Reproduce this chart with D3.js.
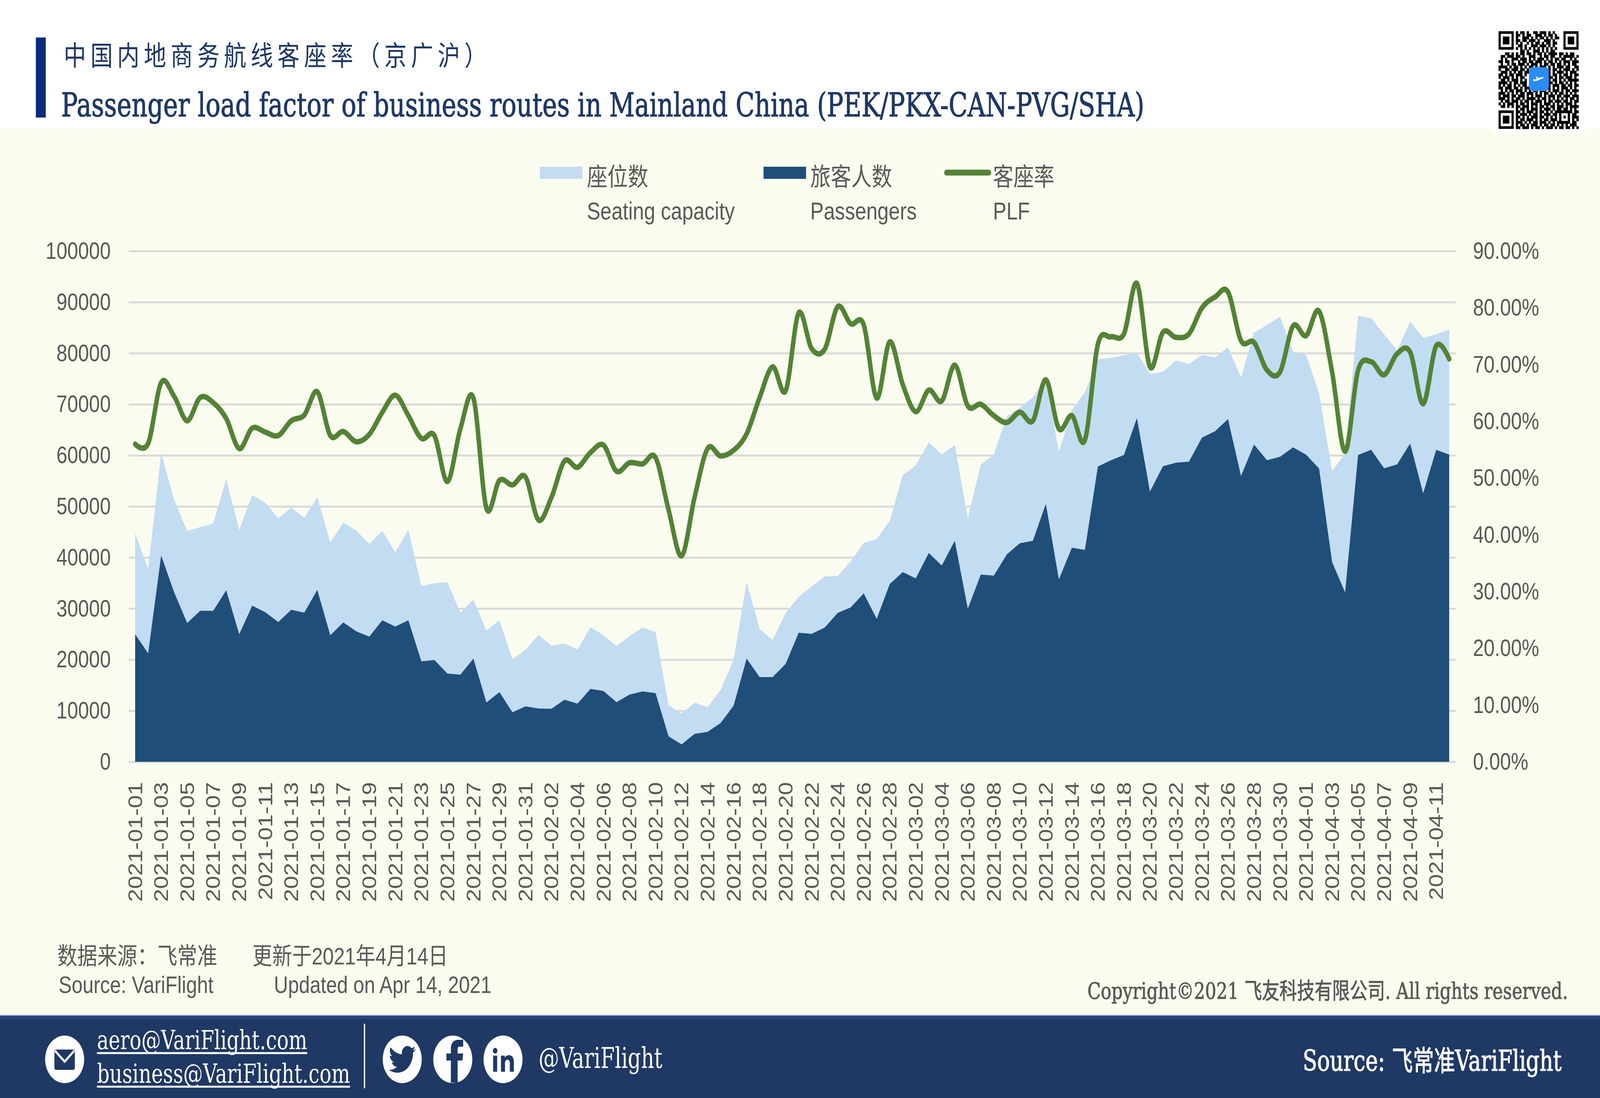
<!DOCTYPE html>
<html lang="zh">
<head>
<meta charset="utf-8">
<title>Passenger load factor</title>
<script src="https://cdn.jsdelivr.net/npm/d3@7"></script>
<style>
  html, body { margin: 0; padding: 0; background: #fff; overflow: hidden; width: 100%; height: 100%; }
  svg { display: block; width: 100vw; height: 100vh; }
  text { font-family: "Liberation Sans", "Noto Sans CJK SC", sans-serif; }
  .serif { font-family: "DejaVu Serif", "Noto Sans CJK SC", serif; }
  .cjk { font-family: "Noto Sans CJK SC", sans-serif; }
</style>
</head>
<body>
<svg id="chart" viewBox="0 0 5000 2812" preserveAspectRatio="none"></svg>
<script>
// values, one per day from 2021-01-01
const seats = [
  44710, 37750, 60410, 51260, 45190, 45940, 46620, 55290, 45390, 52220, 50720, 47650, 49760, 47780, 51810, 42940, 46830,
  45260, 42660, 45190, 41020, 45460, 34340, 34950, 35150, 29210, 31740, 25670, 27710, 20070, 21910, 24850, 22730, 23140,
  21980, 26350, 24780, 22660, 24640, 26280, 25390, 11060, 9420, 11600, 10720, 14060, 20000, 35150, 26010, 23820,
  29150, 32290, 34340, 36250, 36380, 39250, 42870, 43620, 47170, 56110, 58020, 62530, 60140, 62050, 47650, 58230, 60140,
  67650, 69350, 71400, 75090, 60620, 68810, 72360, 78840, 79050, 79590, 80070, 75910, 76380, 78570, 77890, 79660, 79180,
  81160, 75220, 84030, 85530, 87170, 80270, 79660, 72150, 57000, 60270, 87300, 86830, 83690, 80550, 86210, 83000, 83690, 84640
];
const passengers = [
  24980, 21230, 40410, 33170, 27170, 29560, 29560, 33580, 24980, 30580, 29280, 27370, 29760, 29210, 33650, 24780, 27300,
  25530, 24510, 27710, 26480, 27710, 19660, 19930, 17270, 17070, 20200, 11600, 13650, 9690, 10850, 10440, 10380, 12150,
  11400, 14270, 13860, 11670, 13170, 13790, 13450, 4980, 3410, 5460, 5870, 7580, 10990, 20200, 16590, 16590,
  19180, 25260, 25050, 26280, 29150, 30240, 32970, 27990, 34810, 37130, 35910, 40890, 38430, 43280, 29970, 36660, 36450,
  40610, 42800, 43280, 50510, 35700, 41910, 41500, 57820, 59050, 60070, 67300, 52900, 57880, 58570, 58770, 63480, 64710,
  67100, 55970, 62120, 59050, 59730, 61570, 60140, 57410, 39110, 33170, 60070, 61090, 57480, 58230, 62320, 52560, 61090, 60140
];
const plf = [
  56.0, 56.1, 66.8, 64.4, 60.1, 64.2, 63.3, 60.5, 55.2, 58.8, 58.1, 57.5, 60.1, 61.1, 65.2, 57.5, 58.2,
  56.4, 57.7, 61.6, 64.6, 61.0, 57.0, 57.5, 49.4, 58.7, 64.1, 44.7, 49.6, 48.8, 50.2, 42.6, 46.6, 53.0,
  51.9, 54.5, 55.8, 51.2, 52.7, 52.5, 53.6, 44.4, 36.3, 46.6, 55.2, 53.9, 54.9, 57.8, 64.2, 69.6,
  65.4, 79.1, 72.8, 72.7, 80.2, 77.2, 77.0, 64.1, 74.0, 66.5, 61.7, 65.5, 63.6, 69.9, 62.7, 63.0, 61.0,
  59.8, 61.6, 60.1, 67.3, 58.7, 61.0, 56.7, 73.6, 74.9, 75.4, 84.3, 69.6, 75.7, 74.8, 75.4, 80.0, 81.9,
  82.8, 74.2, 73.9, 69.0, 68.7, 76.8, 75.1, 79.4, 68.7, 54.7, 69.0, 70.5, 68.2, 71.9, 72.2, 63.1, 73.3, 71.0
];
const dates = d3.utcDay.range(new Date(Date.UTC(2021, 0, 1)), new Date(Date.UTC(2021, 3, 13))).map(d3.utcFormat("%Y-%m-%d"));
const seatTicks = [0, 10000, 20000, 30000, 40000, 50000, 60000, 70000, 80000, 90000, 100000];
const plfTicks = [0, 10, 20, 30, 40, 50, 60, 70, 80, 90];

// QR pattern, rough copy of the picture, finder squares are drawn on top
const qrRows = [
  "........#.##.#..##.###.#.#...........",
  "........##.#.##..###.#.##.#..........",
  "........#..###.#.#.##.#.#.##.........",
  "........##.##.###.#..###.#...........",
  "........#.#..#.#.##.#.##.##..........",
  ".........##.#..###.###.#.#...........",
  "........#.#.#.#.#.#.#.#.#.#..........",
  "..........##.#..###.#.#.##...........",
  "...##.#.#.##.##.#.##.#.####.##.#.##..",
  ".##.###.##.#..###..#.##.##..#.#####.#",
  ".#.#..###.###.#.#.###.#.#.##.##..#.#.",
  "##.##.#..#.##.##.###.#.##.#.#.###.###",
  ".#..#.##.###.#.###.#.##.##.##.#.#.##.",
  "####.#.##.#.#.##.#.###.#.#.###.##..##",
  "#..##.###.##.#......##.#.##.#.###.#.#",
  ".###.#.#.##.##......#.##.#.###.#.###.",
  "##.#.##.###.#.......##.#.##.#.##.#.##",
  "#.###.#.#.##........#.###.#.##.###.#.",
  ".##.#.###.#.#.......##.#.##.#.#.#####",
  "####.#.##.###.......#.###.#.##.#.#.#.",
  "#.#.##.#.#.##.#.....##.#.###.##.##.##",
  "##.###.##.#.###.###.#.##.#.#.###.#.#.",
  ".#.#.##.###.#.#.##.###.#.###.#.##.###",
  "###.#.#.#.##.###.#.#.##.#.#.##.#.#.#.",
  "#.###.##.###.#.#.###.#.###.##.###.###",
  "###.#.#.##.#.####.#.##.#.#.#.#.#.##.#",
  ".#.##.###.#.##.#.###.#.##.###.##.#.##",
  "#.#.###.#.##.#.###.#.###.#.#.#.###.#.",
  ".##.#.#.##.###.#.#.##.#.##.###.#.####",
  "........#.##.#.###.#.###.#.##.##.#.#.",
  "........##.#.###.#.##.#.#.########.##",
  "........#.###.#.##.#.###.##.#...#.##.",
  "........##.#.#.###.##.#.#.#.#.#.#.###",
  "........#.##.###.#.#.##.###.#...#.#.#",
  "........###.#.#.##.###.#.#.######.##.",
  "........#.##.#.###.#.##.##.#.#.#.###.",
  "........##.###.#.##.#.###.#.##.##.#.#"
];

const navy = "#1F3864", grey = "#595959";
const xLeft = 402, xRight = 4549, yBase = 1951, yTop = 643;

const svg = d3.select("#chart");

svg.append("rect").attr("width", 5000).attr("height", 2812).attr("fill", "#fff");
svg.append("rect").attr("y", 330).attr("width", 5000).attr("height", 2270).attr("fill", "#FAFCEF");

// header
svg.append("rect").attr("x", 112).attr("y", 96).attr("width", 31).attr("height", 205).attr("fill", "#0B2A80");
svg.append("text").attr("class", "cjk").attr("x", 199).attr("y", 168)
  .attr("font-size", 70).attr("font-weight", 400).attr("letter-spacing", 13.5).attr("fill", navy)
  .text("中国内地商务航线客座率（京广沪）");
svg.append("text").attr("class", "serif").attr("x", 191).attr("y", 298)
  .attr("font-size", 84).attr("fill", navy).attr("stroke", navy).attr("stroke-width", 1.5)
  .attr("textLength", 3385).attr("lengthAdjust", "spacingAndGlyphs")
  .text("Passenger load factor of business routes in Mainland China (PEK/PKX-CAN-PVG/SHA)");

// scales and axes
const x = d3.scalePoint().domain(dates).range([xLeft, xRight]).padding(0.5);
const y = d3.scaleLinear().domain([0, 100000]).range([yBase, yTop]);
const yPlf = d3.scaleLinear().domain([0, 90]).range([yBase, yTop]);

const styleAxisText = g => g.selectAll("text")
  .attr("font-size", 61).attr("fill", grey);

svg.append("g")
  .attr("transform", `translate(${xLeft},0)`)
  .call(d3.axisLeft(y).tickValues(seatTicks).tickSize(-(xRight - xLeft)).tickPadding(56).tickFormat(d3.format("d")))
  .call(g => g.select(".domain").remove())
  .call(g => g.selectAll("line").attr("stroke", "#D9D9D9").attr("stroke-width", 5))
  .call(styleAxisText);

svg.append("g")
  .attr("transform", `translate(${xRight},0)`)
  .call(d3.axisRight(yPlf).tickValues(plfTicks).tickSize(0).tickPadding(54).tickFormat(d => d.toFixed(2) + "%"))
  .call(g => g.select(".domain").remove())
  .call(styleAxisText);

svg.append("g")
  .attr("transform", `translate(0,${yBase})`)
  .call(d3.axisBottom(x).tickValues(dates.filter((d, i) => i % 2 === 0)).tickSize(0))
  .call(g => g.select(".domain").remove())
  .call(styleAxisText)
  .call(g => g.selectAll("text")
    .attr("font-size", 60)
    .attr("text-anchor", "end")
    .attr("dy", "0.35em")
    .attr("y", 0)
    .attr("transform", "translate(0,52) rotate(-90)"));

// areas and line
const seatArea = d3.area().x((d, i) => x(dates[i])).y0(y(0)).y1(d => y(d));

svg.append("path").datum(seats).attr("d", seatArea).attr("fill", "#C2DCF2");
svg.append("path").datum(passengers).attr("d", seatArea).attr("fill", "#1F4E79");

const plfLine = d3.line()
  .x((d, i) => x(dates[i]))
  .y(d => yPlf(d))
  .curve(d3.curveCardinal.tension(0));

svg.append("path").datum(plf)
  .attr("d", plfLine)
  .attr("fill", "none")
  .attr("stroke", "#548235")
  .attr("stroke-width", 14)
  .attr("stroke-linecap", "round")
  .attr("stroke-linejoin", "round");

// legend
const legend = svg.append("g");
legend.append("rect").attr("x", 1687).attr("y", 427).attr("width", 133).attr("height", 31).attr("fill", "#C2DCF2");
legend.append("rect").attr("x", 2386).attr("y", 427).attr("width", 133).attr("height", 31).attr("fill", "#1F4E79");
legend.append("line").attr("x1", 2958).attr("x2", 3090).attr("y1", 442).attr("y2", 442)
  .attr("stroke", "#548235").attr("stroke-width", 15).attr("stroke-linecap", "round");

const legendLabels = [
  { x: 1834, zh: "座位数", en: "Seating capacity" },
  { x: 2532, zh: "旅客人数", en: "Passengers" },
  { x: 3103, zh: "客座率", en: "PLF" }
];
legendLabels.forEach(d => {
  legend.append("text").attr("x", d.x).attr("y", 475).attr("font-size", 64).attr("fill", grey).text(d.zh);
  legend.append("text").attr("x", d.x).attr("y", 562).attr("font-size", 63).attr("fill", grey).text(d.en);
});

// source notes
const note = (px, py, width, str) => svg.append("text")
  .attr("x", px).attr("y", py).attr("font-size", 61).attr("fill", grey)
  .attr("textLength", width).attr("lengthAdjust", "spacingAndGlyphs").text(str);
note(179, 2470, 500, "数据来源：飞常准");
note(789, 2470, 611, "更新于2021年4月14日");
note(183, 2543, 484, "Source: VariFlight");
note(856, 2543, 680, "Updated on Apr 14, 2021");

svg.append("text").attr("class", "serif").attr("x", 3398).attr("y", 2558)
  .attr("font-size", 58).attr("fill", grey).attr("stroke", grey).attr("stroke-width", 1.2)
  .attr("textLength", 1502).attr("lengthAdjust", "spacingAndGlyphs")
  .text("Copyright©2021 飞友科技有限公司. All rights reserved.");

// footer band
svg.append("rect").attr("y", 2598).attr("width", 5000).attr("height", 214).attr("fill", navy);
svg.append("rect").attr("y", 2598).attr("width", 5000).attr("height", 3).attr("fill", "#BFD3EA");
svg.append("rect").attr("y", 2601).attr("width", 5000).attr("height", 9).attr("fill", "#2A4480");

const footerText = (px, py, size, width, str) => svg.append("text").attr("class", "serif")
  .attr("x", px).attr("y", py).attr("font-size", size).attr("fill", "#fff")
  .attr("textLength", width).attr("lengthAdjust", "spacingAndGlyphs").text(str);

footerText(303, 2687, 68, 657, "aero@VariFlight.com");
footerText(303, 2773, 68, 791, "business@VariFlight.com");
footerText(1683, 2735, 72, 387, "@VariFlight");
footerText(4071, 2742, 72, 809, "Source: 飞常准VariFlight").attr("stroke", "#fff").attr("stroke-width", 1.5);

[[303, 960, 2697], [303, 1094, 2783]].forEach(u => svg.append("line")
  .attr("x1", u[0]).attr("x2", u[1]).attr("y1", u[2]).attr("y2", u[2])
  .attr("stroke", "#fff").attr("stroke-width", 5));

svg.append("line").attr("x1", 1139).attr("x2", 1139).attr("y1", 2622).attr("y2", 2787)
  .attr("stroke", "#fff").attr("stroke-width", 4);

// round icons
const icon = (cx, draw) => {
  const g = svg.append("g").attr("transform", `translate(${cx},2713)`);
  g.append("circle").attr("r", 61).attr("fill", "#fff");
  draw(g);
};
icon(202, g => {
  g.append("rect").attr("x", -32).attr("y", -25).attr("width", 64).attr("height", 52).attr("rx", 5).attr("fill", navy);
  g.append("path").attr("d", "M-30,-22L0,6L30,-22").attr("fill", "none").attr("stroke", "#fff").attr("stroke-width", 6);
});
icon(1257, g => {
  g.append("path").attr("transform", "translate(-42,-42) scale(3.5)").attr("fill", navy)
    .attr("d", "M23.953 4.57a10 10 0 01-2.825.775 4.958 4.958 0 002.163-2.723c-.951.555-2.005.959-3.127 1.184a4.92 4.92 0 00-8.384 4.482C7.69 8.095 4.067 6.13 1.64 3.162a4.822 4.822 0 00-.666 2.475c0 1.71.87 3.213 2.188 4.096a4.904 4.904 0 01-2.228-.616v.06a4.923 4.923 0 003.946 4.827 4.996 4.996 0 01-2.212.085 4.936 4.936 0 004.604 3.417 9.867 9.867 0 01-6.102 2.105c-.39 0-.779-.023-1.17-.067a13.995 13.995 0 007.557 2.209c9.053 0 13.998-7.496 13.998-13.985 0-.21 0-.42-.015-.63A9.935 9.935 0 0024 4.59z");
});
icon(1415, g => {
  g.append("path").attr("transform", "translate(-55,-60) scale(5)").attr("fill", navy)
    .attr("d", "M14 9V6.8c0-.9.4-1.3 1.3-1.3H17.5V2h-3c-3.2 0-4.7 1.9-4.7 4.6V9H7v3.6h2.8V24H14V12.6h3l.5-3.6z");
});
icon(1572, g => {
  g.append("path").attr("transform", "translate(-40,-42) scale(3.6)").attr("fill", navy)
    .attr("d", "M6 9H2.5v11.5H6zM4.25 3.5a2 2 0 100 4 2 2 0 000-4zM20.5 20.5H17v-6c0-1.5-.6-2.6-2-2.6-1.5 0-2.2 1.1-2.2 2.6v6H9.3V9h3.4v1.6c.6-1 1.8-1.9 3.4-1.9 3 0 4.4 1.9 4.4 5z");
});

// QR code
const qrX = 4683, qrY = 80, qrCell = 250 / 37;
const qr = svg.append("g").attr("transform", `translate(${qrX},${qrY})`);
svg.insert("rect", "g").attr("x", 4668).attr("y", 66).attr("width", 284).attr("height", 276).attr("fill", "#fff");
qrRows.forEach((row, r) => {
  qr.selectAll(null).data(row.split("").map((c, i) => ({ c, i })).filter(d => d.c === "#")).join("rect")
    .attr("x", d => d.i * qrCell).attr("y", r * qrCell)
    .attr("width", qrCell + 0.5).attr("height", qrCell + 0.5).attr("fill", "#000");
});
[[0, 0], [30, 0], [0, 30]].forEach(p => {
  const f = qr.append("g").attr("transform", `translate(${p[0] * qrCell},${p[1] * qrCell})`);
  f.append("rect").attr("x", 0.5 * qrCell).attr("y", 0.5 * qrCell).attr("width", 6 * qrCell).attr("height", 6 * qrCell)
    .attr("fill", "#fff").attr("stroke", "#000").attr("stroke-width", qrCell);
  f.append("rect").attr("x", 2 * qrCell).attr("y", 2 * qrCell).attr("width", 3 * qrCell).attr("height", 3 * qrCell).attr("fill", "#000");
});
const logo = svg.append("g").attr("transform", "translate(4778,172)");
logo.append("rect").attr("width", 62).attr("height", 61).attr("rx", 11).attr("fill", "#2A8CF5");
logo.append("path").attr("fill", "#fff")
  .attr("d", "M14,36c8,0,24-4,34-10c-8-1-14,0-18,2l-6-4l-3,1l4,5l-7,2l-3-2l-2,1z");
</script>
</body>
</html>
